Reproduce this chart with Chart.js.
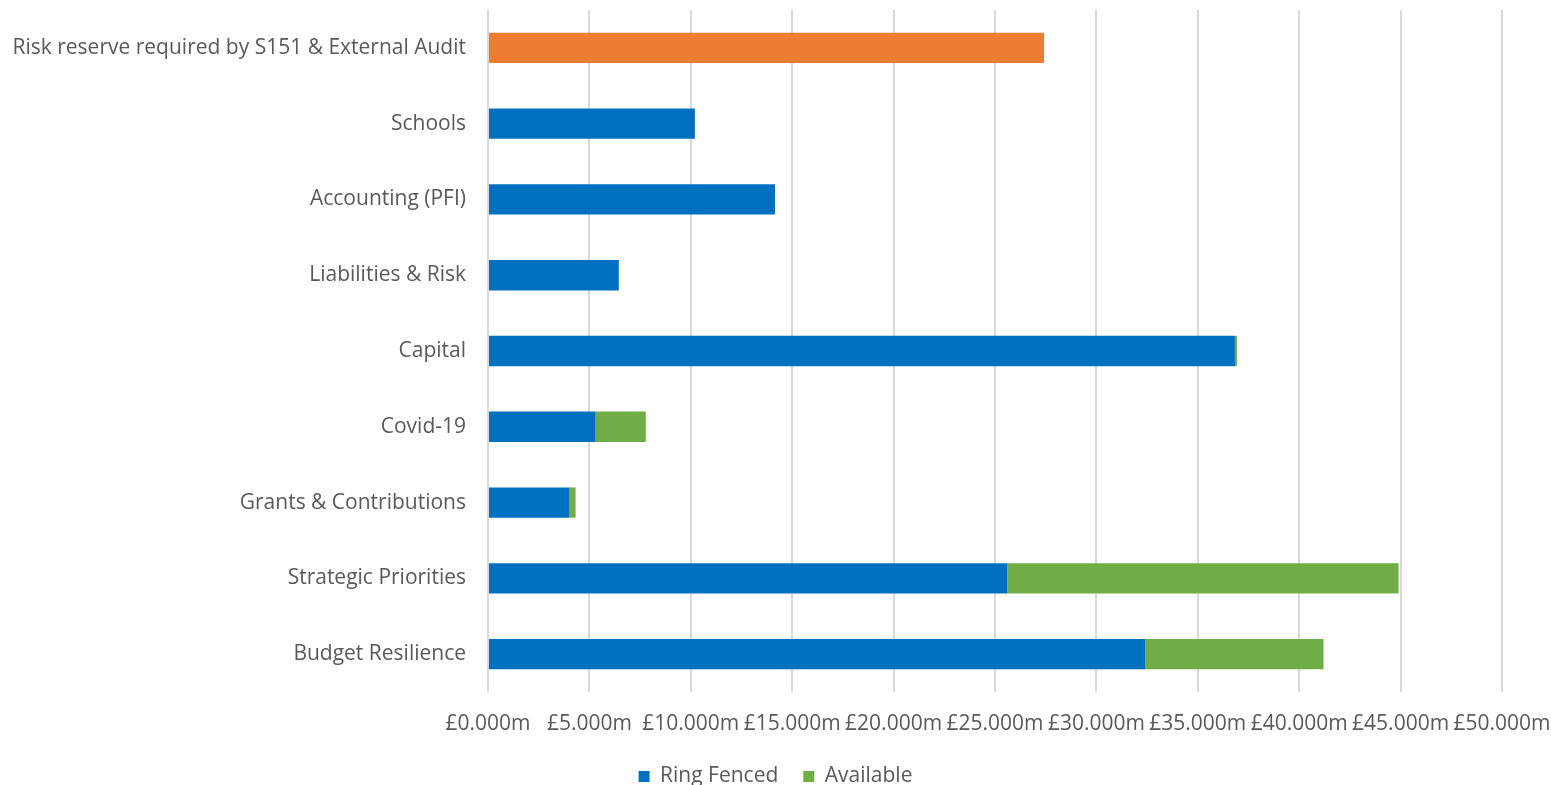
<!DOCTYPE html>
<html>
<head>
<meta charset="utf-8">
<script src="https://cdn.jsdelivr.net/npm/chart.js@4"></script>
<style>
html,body{margin:0;padding:0;background:#fff;}
#wrap{width:1551px;height:785px;position:relative;}
</style>
</head>
<body>
<div id="wrap"><canvas id="c"></canvas></div>
<script>
const categories = [
  "Risk reserve required by S151 & External Audit",
  "Schools",
  "Accounting (PFI)",
  "Liabilities & Risk",
  "Capital",
  "Covid-19",
  "Grants & Contributions",
  "Strategic Priorities",
  "Budget Resilience"
];
const ringFenced = [null, 10.2, 14.15, 6.45, 36.83, 5.3, 4.02, 25.6, 32.4];
const available  = [null, null, null, null, 0.1, 2.48, 0.3, 19.3, 8.8];
const riskReserve = [27.42, null, null, null, null, null, null, null, null];
const xTicks = [0, 5, 10, 15, 20, 25, 30, 35, 40, 45, 50];

const FONT = "'Open Sans', Lato, sans-serif";
const TEXT = "#595959";

new Chart(document.getElementById('c'), {
  type: 'bar',
  data: {
    labels: categories,
    datasets: [
      { label: 'Ring Fenced', data: ringFenced, backgroundColor: '#0070C0', barPercentage: 0.4, categoryPercentage: 1 },
      { label: 'Available', data: available, backgroundColor: '#70AD47', barPercentage: 0.4, categoryPercentage: 1 },
      { label: 'Risk reserve', data: riskReserve, backgroundColor: '#ED7D31', barPercentage: 0.4, categoryPercentage: 1 }
    ]
  },
  options: {
    indexAxis: 'y',
    responsive: true,
    maintainAspectRatio: false,
    animation: false,
    layout: { padding: { top: 10, right: 0, left: 0, bottom: -12 } },
    scales: {
      x: {
        stacked: true,
        min: 0, max: 50,
        afterBuildTicks: s => { s.ticks = xTicks.map(v => ({ value: v })); },
        afterFit: s => { s.paddingLeft = 0; s.paddingRight = 49; s.height = 49; },
        ticks: {
          color: TEXT,
          font: { family: FONT, size: 21 },
          padding: 19,
          maxRotation: 0,
          autoSkip: false,
          callback: v => '£' + Number(v).toFixed(3) + 'm'
        },
        grid: { color: '#d9d9d9', lineWidth: 2, drawTicks: false },
        border: { display: false }
      },
      y: {
        stacked: true,
        afterFit: s => { s.width = 488; s.paddingTop = 0; s.paddingBottom = 0; },
        ticks: {
          color: TEXT,
          font: { family: FONT, size: 21 },
          padding: 22,
          autoSkip: false
        },
        grid: { display: false, drawTicks: false },
        border: { display: false }
      }
    },
    plugins: {
      tooltip: { enabled: false },
      legend: {
        position: 'bottom',
        labels: {
          color: TEXT,
          font: { family: FONT, size: 21 },
          boxWidth: 11, boxHeight: 11,
          padding: 25,
          filter: it => it.text !== 'Risk reserve'
        }
      }
    }
  }
});
</script>
</body>
</html>
